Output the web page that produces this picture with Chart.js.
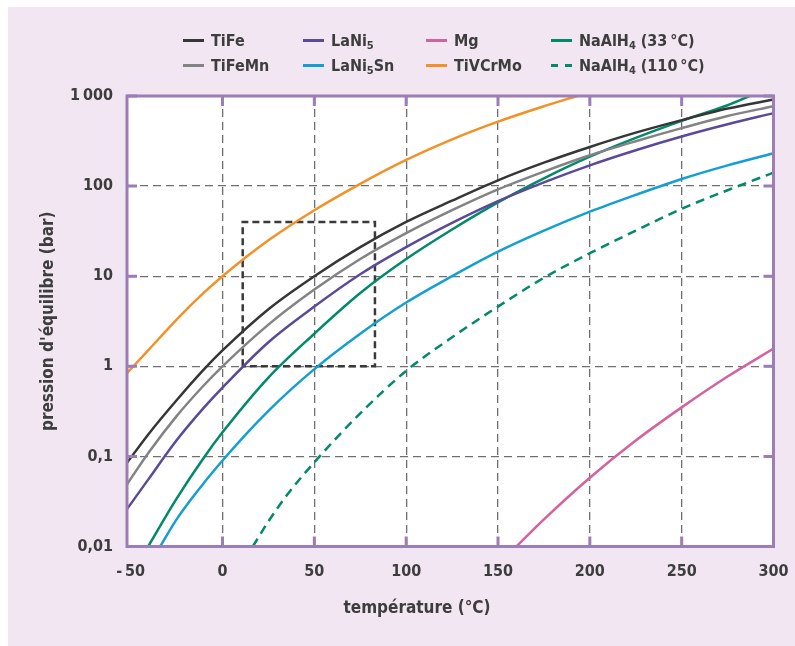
<!DOCTYPE html>
<html>
<head>
<meta charset="utf-8">
<script src="https://cdn.jsdelivr.net/npm/chart.js@4.4.1/dist/chart.umd.min.js"></script>
<style>
  html, body { margin: 0; padding: 0; background: #fff; }
  #panel { position: absolute; left: 8px; top: 7px; width: 787px; height: 639px; background: #f1e6f2; }
  #chart { position: absolute; left: 0; top: 0; }
  .leg { position: absolute; display: flex; align-items: center; height: 18px;
         font: bold 16px "DejaVu Sans Condensed", "DejaVu Sans", sans-serif; color: #3d3d3d; white-space: nowrap; }
  .leg .sw { display: inline-block; width: 21px; height: 3px; margin-right: 7px; }
  .leg sub { font-size: 11px; vertical-align: -3px; line-height: 0; }
</style>
</head>
<body>
<div id="panel"></div>
<canvas id="chart" width="795" height="646"></canvas>
<div id="legend"></div>
<script>
// temperatures (°C) and equilibrium pressures (bar)
const tempsFull = [-52, -40, -25, -10, 0, 25, 50, 75, 100, 125, 150, 175, 200, 225, 250, 275, 300];

const tiFeP    = [0.085, 0.18, 0.42, 0.93, 1.5, 4.3, 10, 21, 40, 69, 116, 182, 272, 392, 540, 725, 915];
const tiFeMnP  = [0.049, 0.112, 0.28, 0.62, 1.0, 2.9, 7.1, 15.5, 30, 54, 92, 145, 220, 315, 440, 600, 770];
const laNi5P   = [0.026, 0.057, 0.151, 0.35, 0.58, 1.85, 4.6, 10.5, 21, 39, 68, 110, 170, 250, 355, 485, 645];

const laNi5SnT = [-34, -25, -15, 0, 25, 50, 75, 100, 125, 150, 175, 200, 225, 250, 275, 300];
const laNi5SnP = [0.01, 0.02, 0.038, 0.09, 0.32, 0.93, 2.3, 5.1, 10, 18.7, 32, 52, 80, 120, 170, 232];

const mgT = [160, 175, 200, 225, 250, 275, 300];
const mgP = [0.01, 0.02, 0.058, 0.15, 0.35, 0.77, 1.57];

const tiVCrMoT = [-52, -40, -25, -10, 0, 25, 50, 75, 100, 125, 150, 175, 193];
const tiVCrMoP = [0.84, 1.54, 3.3, 6.6, 10, 25, 54, 106, 195, 330, 519, 770, 1000];

const naAlH4aT = [-40.5, -25, -10, 0, 25, 50, 75, 100, 125, 150, 175, 200, 225, 250, 275, 287];
const naAlH4aP = [0.01, 0.034, 0.098, 0.185, 0.75, 2.3, 6.5, 15.5, 33, 66, 122, 212, 343, 530, 790, 1000];

const naAlH4bT = [16.5, 25, 35, 50, 75, 100, 125, 150, 175, 200, 225, 250, 275, 300];
const naAlH4bP = [0.01, 0.019, 0.037, 0.086, 0.30, 0.89, 2.1, 4.6, 9.6, 18, 32, 56, 90, 141];

// dashed box (usual operating window)
const boxT = [11, 11, 83, 83, 11];
const boxP = [1, 40, 40, 1, 1];

const xTicks = [-50, 0, 50, 100, 150, 200, 250, 300];
const xLabels = ['-\u200950', '0', '50', '100', '150', '200', '250', '300'];
const yTicks = [0.01, 0.1, 1, 10, 100, 1000];
const yLabels = ['0,01', '0,1', '1', '10', '100', '1\u2009000'];

const names = ['TiFe', 'TiFeMn', 'LaNi₅', 'LaNi₅Sn', 'Mg', 'TiVCrMo', 'NaAlH₄ (33\u2009°C)', 'NaAlH₄ (110\u2009°C)'];
const colors = ['#363636', '#838383', '#5b4a97', '#149fd2', '#d4629d', '#f39127', '#008a6a', '#008a6a'];

const FONT = '"DejaVu Sans Condensed", "DejaVu Sans", sans-serif';
const TEXT = '#3d3d3d';
const FRAME = '#9d7db6';
const GRID = '#6f6f6f';

const pts = (t, p) => t.map((x, i) => ({ x: x, y: p[i] }));

const seriesData = [
    pts(tempsFull, tiFeP),
    pts(tempsFull, tiFeMnP),
    pts(tempsFull, laNi5P),
    pts(laNi5SnT, laNi5SnP),
    pts(mgT, mgP),
    pts(tiVCrMoT, tiVCrMoP),
    pts(naAlH4aT, naAlH4aP),
    pts(naAlH4bT, naAlH4bP)
];

const datasets = seriesData.map((d, i) => ({
    label: names[i],
    data: d,
    borderColor: colors[i],
    borderWidth: 2.5,
    borderDash: i === 7 ? [9, 6] : [],
    pointRadius: 0,
    cubicInterpolationMode: 'monotone',
    fill: false
}));

datasets.push({
    label: 'box',
    data: pts(boxT, boxP),
    borderColor: '#3a3a3a',
    borderWidth: 2.5,
    borderDash: [7, 4],
    pointRadius: 0,
    tension: 0,
    fill: false
});

const framePlugin = {
    id: 'frame',
    beforeDraw(chart) {
        const { ctx, chartArea: a } = chart;
        ctx.save();
        ctx.fillStyle = '#fff';
        ctx.fillRect(a.left, a.top, a.right - a.left, a.bottom - a.top);
        ctx.restore();
    },
    afterDraw(chart) {
        const { ctx, chartArea: a, scales } = chart;
        ctx.save();
        ctx.strokeStyle = FRAME;
        ctx.lineWidth = 3;
        ctx.strokeRect(a.left, a.top, a.right - a.left, a.bottom - a.top);
        ctx.beginPath();
        xTicks.slice(1).forEach(v => {
            const x = scales.x.getPixelForValue(v);
            ctx.moveTo(x, a.top); ctx.lineTo(x, a.top + 10);
            ctx.moveTo(x, a.bottom); ctx.lineTo(x, a.bottom - 10);
        });
        yTicks.forEach(v => {
            const y = scales.y.getPixelForValue(v);
            ctx.moveTo(a.left, y); ctx.lineTo(a.left + 10, y);
            ctx.moveTo(a.right, y); ctx.lineTo(a.right - 10, y);
        });
        ctx.stroke();

        // x axis title (sits left of the plot centre in the original)
        ctx.fillStyle = TEXT;
        ctx.font = 'bold 17px ' + FONT;
        ctx.textAlign = 'center';
        ctx.textBaseline = 'middle';
        ctx.fillText('température (°C)', 417, 609);
        ctx.restore();
    }
};

new Chart(document.getElementById('chart'), {
    type: 'line',
    data: { datasets: datasets },
    options: {
        responsive: false,
        animation: false,
        devicePixelRatio: 1,
        layout: { padding: { top: 96, right: 21.5, bottom: 0, left: 0 } },
        plugins: { legend: { display: false }, tooltip: { enabled: false } },
        scales: {
            x: {
                type: 'linear',
                min: -52,
                max: 300,
                afterBuildTicks: s => { s.ticks = xTicks.map(v => ({ value: v })); },
                afterFit: s => { s.height = 99.5; s.paddingLeft = 0; s.paddingRight = 0; },
                ticks: {
                    callback: (v, i) => xLabels[i],
                    padding: 16,
                    color: TEXT,
                    font: { family: FONT, size: 16, weight: 'bold' },
                    maxRotation: 0
                },
                grid: {
                    color: c => (c.tick && c.tick.value === -50 ? 'rgba(0,0,0,0)' : GRID),
                    lineWidth: 1.3,
                    drawTicks: false
                },
                border: { display: false, dash: [8, 5] }
            },
            y: {
                type: 'logarithmic',
                min: 0.01,
                max: 1000,
                afterBuildTicks: s => { s.ticks = yTicks.map(v => ({ value: v })); },
                afterFit: s => { s.width = 127; s.paddingTop = 0; s.paddingBottom = 0; },
                ticks: {
                    callback: (v, i) => yLabels[i],
                    padding: 14,
                    color: TEXT,
                    font: { family: FONT, size: 16, weight: 'bold' }
                },
                grid: { color: GRID, lineWidth: 1.3, drawTicks: false },
                border: { display: false, dash: [8, 5] },
                title: {
                    display: true,
                    text: "pression d'équilibre (bar)",
                    color: TEXT,
                    font: { family: FONT, size: 17, weight: 'bold' },
                    padding: { top: 38, bottom: 0 }
                }
            }
        }
    },
    plugins: [framePlugin]
});

// legend in four columns, two rows (column-major order)
const legCols = [183, 303, 426, 551];
const legRows = [40.5, 65.5];
const legend = document.getElementById('legend');
names.forEach((name, i) => {
    const item = document.createElement('div');
    item.className = 'leg';
    item.style.left = legCols[Math.floor(i / 2)] + 'px';
    item.style.top = (legRows[i % 2] - 9) + 'px';
    const sw = document.createElement('span');
    sw.className = 'sw';
    const c = colors[i];
    sw.style.background = i === 7
        ? `linear-gradient(90deg, ${c} 0 7px, transparent 7px 14px, ${c} 14px 21px)`
        : c;
    const txt = document.createElement('span');
    txt.innerHTML = name.replace('₅', '<sub>5</sub>').replace('₄', '<sub>4</sub>');
    item.appendChild(sw);
    item.appendChild(txt);
    legend.appendChild(item);
});
</script>
</body>
</html>
